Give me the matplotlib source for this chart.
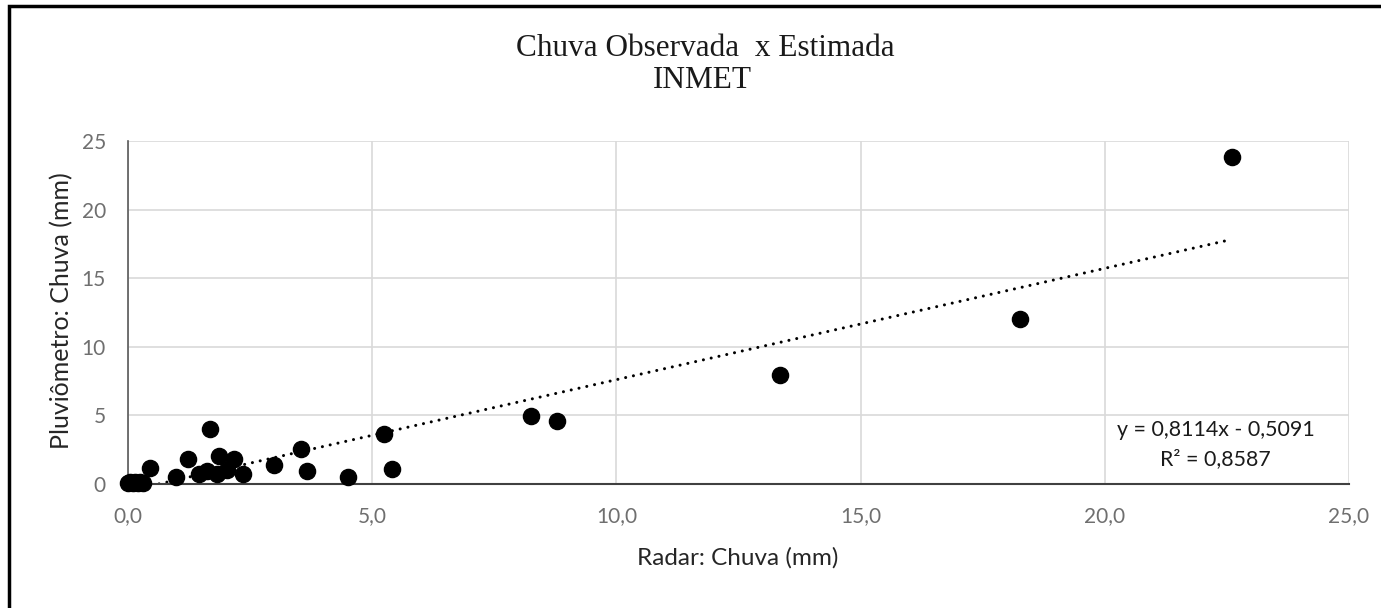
# Chuva observada x estimada (INMET) - scatter com linha de tendência

import matplotlib.pyplot as plt
from matplotlib.patches import Rectangle

# --- Dados ---
radar = [0.00, 0.05, 0.10, 0.15, 0.20, 0.25, 0.30,
         0.45, 0.99, 1.22, 1.45, 1.62, 1.67, 1.82, 1.86, 2.02, 2.17, 2.35,
         2.99, 3.54, 3.67, 4.50, 5.24, 5.41, 8.26, 8.79, 13.34, 18.26, 22.60]
pluviometro = [0.10, 0.15, 0.05, 0.15, 0.10, 0.15, 0.10,
               1.14, 0.53, 1.80, 0.73, 0.97, 3.98, 0.73, 2.04, 1.02, 1.84, 0.73,
               1.36, 2.57, 0.97, 0.53, 3.62, 1.12, 4.96, 4.60, 7.95, 12.00, 23.80]

slope = 0.8114
intercept = -0.5091
r2 = 0.8587

x_ticks = [0, 5, 10, 15, 20, 25]
y_ticks = [0, 5, 10, 15, 20, 25]

W, H = 1381, 608

# --- Figura ---
fig = plt.figure(figsize=(W / 100, H / 100), dpi=100)
ax = fig.add_axes([128 / W, 1 - 484 / H, 1221 / W, 343 / H])

ax.scatter(radar, pluviometro, s=135, color="black", zorder=3, clip_on=False)

# linha de tendência (linear)
x0, x1 = min(radar), max(radar)
ax.plot([x0, x1], [slope * x0 + intercept, slope * x1 + intercept],
        color="black", lw=2.2, linestyle=(0, (0.01, 2.6)),
        dash_capstyle="round", zorder=2)

ax.set_xlim(0, 25)
ax.set_ylim(0, 25)
ax.set_xticks(x_ticks)
ax.set_yticks(y_ticks)
ax.set_xticklabels([f"{v:.1f}".replace(".", ",") for v in x_ticks])
ax.set_yticklabels([str(v) for v in y_ticks])

ax.grid(True, color="#d9d9d9", lw=1.2, zorder=0)
ax.set_axisbelow(True)
for side in ["top", "right"]:
    ax.spines[side].set_visible(False)
ax.spines["left"].set_color("#595959")
ax.spines["bottom"].set_color("#404040")
ax.spines["left"].set_linewidth(1.2)
ax.spines["bottom"].set_linewidth(1.5)

ax.tick_params(axis="both", length=0, labelsize=15, labelcolor="#6f6f6f")
ax.tick_params(axis="x", pad=16)
ax.tick_params(axis="y", pad=16)
for lbl in ax.get_xticklabels() + ax.get_yticklabels():
    lbl.set_fontfamily("Lato")

fig.text(738 / W, 1 - 558 / H, "Radar: Chuva (mm)", ha="center", va="center",
         fontsize=17.5, family="Lato", color="#262626")
fig.text(62 / W, 1 - 311 / H, "Pluviômetro: Chuva (mm)", ha="center",
         va="center", rotation=90, fontsize=18, family="Lato",
         color="#262626")

fig.text(705 / W, 1 - 49 / H, "Chuva Observada  x Estimada", ha="center",
         va="center", fontsize=22.5, family="Liberation Serif", color="#1a1a1a")
fig.text(702 / W, 1 - 81 / H, "INMET", ha="center",
         va="center", fontsize=22.5, family="Liberation Serif", color="#1a1a1a")

eq = f"y = {slope:.4f}x - {abs(intercept):.4f}\nR² = {r2:.4f}".replace(".", ",")
ax.text(22.27, 2.85, eq, ha="center", va="center", fontsize=15.4,
        family="Lato", color="#1a1a1a", linespacing=1.55)

# moldura do gráfico
fig.patches.append(Rectangle((9 / W, -0.05), 1.2, 1.05 - 6 / H,
                             transform=fig.transFigure, fill=False,
                             edgecolor="black", lw=2.5))

fig.savefig("out.png", dpi=100)
